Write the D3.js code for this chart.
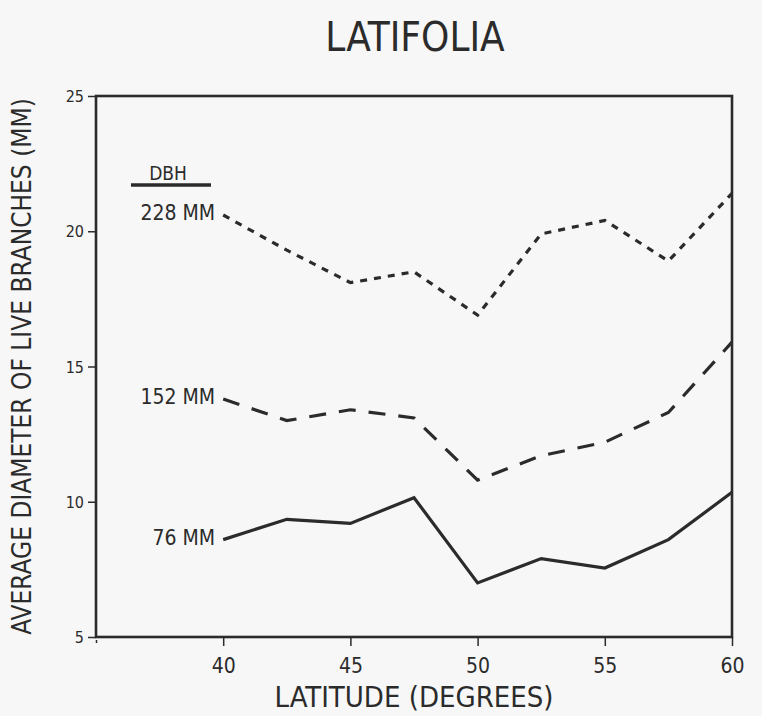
<!DOCTYPE html>
<html>
<head>
<meta charset="utf-8">
<script src="https://cdn.jsdelivr.net/npm/d3@7"></script>
<style>
  html, body { margin: 0; padding: 0; background: #f7f7f7; }
  svg { display: block; }
  text { fill: #2b2b2b; font-family: "DejaVu Sans Condensed", "Liberation Sans Narrow", "DejaVu Sans", sans-serif; }
</style>
</head>
<body>
<script>
// Latitude of each sample point (degrees)
const latitudes = [40, 42.5, 45, 47.5, 50, 52.5, 55, 57.5, 60];
// Average diameter of live branches (mm) by tree DBH class
const dbh228 = [20.6, 19.3, 18.1, 18.5, 16.9, 19.9, 20.4, 18.9, 21.4];
const dbh152 = [13.8, 13.0, 13.4, 13.1, 10.8, 11.7, 12.2, 13.3, 15.9];
const dbh76  = [8.6, 9.35, 9.2, 10.15, 7.0, 7.9, 7.55, 8.6, 10.35];
const seriesLabels = ["228 MM", "152 MM", "76 MM"];
const xTicks = [35, 40, 45, 50, 55, 60];
const xTickLabels = ["", "40", "45", "50", "55", "60"];
const yTicks = [5, 10, 15, 20, 25];

const W = 762, H = 716;
const ink = "#2b2b2b";
const svg = d3.select("body").append("svg").attr("width", W).attr("height", H);

const x = d3.scaleLinear().domain([35, 60]).range([96, 732]);
const y = d3.scaleLinear().domain([5, 25]).range([637, 96]);

// Title
svg.append("text").attr("x", 415).attr("y", 51).attr("text-anchor", "middle")
  .style("font-size", "40px").text("LATIFOLIA");

// Axes
const xAxis = svg.append("g").attr("transform", `translate(0,${y(5)})`)
  .call(d3.axisBottom(x).tickValues(xTicks).tickFormat((d, i) => xTickLabels[i]).tickSize(9).tickPadding(12));
const yAxis = svg.append("g").attr("transform", `translate(${x(35)},0)`)
  .call(d3.axisLeft(y).tickValues(yTicks).tickSize(8).tickPadding(4));
[xAxis, yAxis].forEach(g => {
  g.select(".domain").remove();
  g.selectAll(".tick line").attr("stroke", ink).attr("stroke-width", 1.5);
});
xAxis.selectAll(".tick text").style("font-size", "21px").attr("fill", ink);
yAxis.selectAll(".tick text").style("font-size", "16px").attr("fill", ink).attr("dy", "0.35em");
xAxis.selectAll(".tick").filter(d => d === 35).select("line").attr("y2", 6).attr("y1", 3);

// Frame
svg.append("rect").attr("x", x(35)).attr("y", y(25))
  .attr("width", x(60) - x(35)).attr("height", y(5) - y(25))
  .attr("fill", "none").attr("stroke", ink).attr("stroke-width", 2.6);

// Axis titles
svg.append("text").attr("x", 414).attr("y", 707).attr("text-anchor", "middle")
  .style("font-size", "29px").text("LATITUDE (DEGREES)");
svg.append("text").attr("transform", `translate(31,${y(15)}) rotate(-90)`)
  .attr("text-anchor", "middle").style("font-size", "26px")
  .text("AVERAGE DIAMETER OF LIVE BRANCHES (MM)");

// Lines
const line = d3.line().x((d, i) => x(latitudes[i])).y(d => y(d));
const series = [
  { values: dbh228, dash: "7,7", label: seriesLabels[0] },
  { values: dbh152, dash: "17,13", label: seriesLabels[1] },
  { values: dbh76, dash: null, label: seriesLabels[2] }
];
series.forEach(s => {
  svg.append("path").datum(s.values).attr("d", line)
    .attr("fill", "none").attr("stroke", ink).attr("stroke-width", 3.2)
    .attr("stroke-linejoin", "miter")
    .attr("stroke-dasharray", s.dash);
  svg.append("text").attr("x", x(latitudes[0]) - 8).attr("y", y(s.values[0]) - 2)
    .attr("text-anchor", "end").attr("dy", "0.35em")
    .style("font-size", "21px").text(s.label);
});

// Legend heading
svg.append("text").attr("x", 168).attr("y", 180).attr("text-anchor", "middle")
  .style("font-size", "19px").text("DBH");
svg.append("line").attr("x1", 131).attr("x2", 211).attr("y1", 185).attr("y2", 185)
  .attr("stroke", ink).attr("stroke-width", 3.5);
</script>
</body>
</html>
